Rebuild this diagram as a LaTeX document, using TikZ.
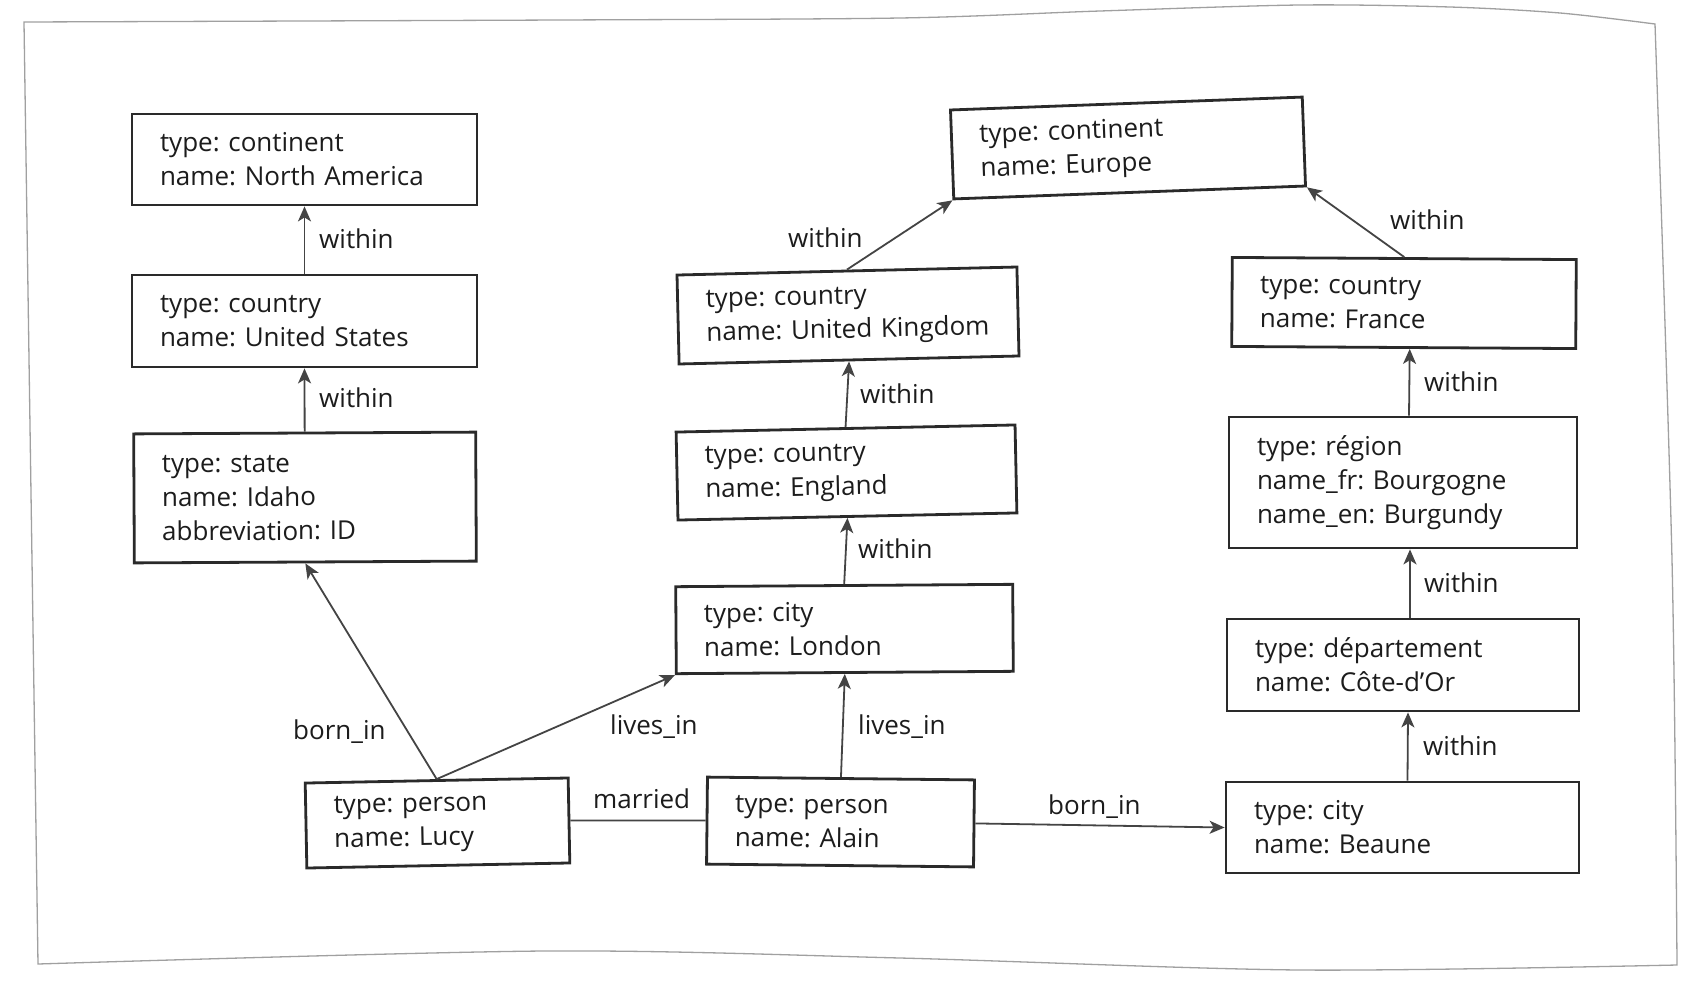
\documentclass[tikz,border=0pt]{standalone}
\usepackage{fontspec}
\setmainfont{Open Sans}
\usetikzlibrary{arrows.meta,calc}
\definecolor{boxc}{HTML}{2A2A2A}
\definecolor{txtc}{HTML}{1C1C1C}
\definecolor{arrc}{HTML}{444444}
\definecolor{framec}{HTML}{A0A0A0}
\begin{document}
\frenchspacing
\begin{tikzpicture}[x=1pt,y=-1pt,
  box/.style={draw=boxc, line width=2.8pt, text=txtc, align=left, inner xsep=28pt, inner ysep=0pt,
    font=\fontsize{26}{34}\selectfont\frenchspacing},
  lbl/.style={text=txtc, inner sep=0pt, anchor=west, text height=18pt, text depth=0pt,
    font=\fontsize{26}{34}\selectfont\frenchspacing},
  arr/.style={draw=arrc, line width=1.8pt, -{Stealth[length=15pt,width=13pt,inset=4pt]}},
  plain/.style={draw=arrc, line width=1.8pt}
]
\useasboundingbox (0,0) rectangle (1700,980);
\fill[white] (0,0) rectangle (1700,980);

% photographed page frame
\draw[framec, line width=1.3pt]
  plot[smooth] coordinates {(24,22) (560,20) (900,18) (1100,11) (1300,5) (1450,7) (1560,13) (1655,24)}
  -- plot[smooth] coordinates {(1655,24) (1672,560) (1677,965)}
  -- plot[smooth] coordinates {(1677,965) (1300,970) (900,958) (545,951) (38,964)}
  -- cycle;

% boxes
\node[box, text width=289pt, minimum height=91pt] (na) at (304.5,159.5)
  {type: continent\\name: North America};
\node[box, text width=289pt, minimum height=92pt] (us) at (304.5,321)
  {type: country\\name: United States};
\node[box, text width=286pt, minimum height=129pt, rotate=0.3] (idaho) at (305,497.5)
  {type: state\\name: Idaho\\abbreviation: ID};
\node[box, text width=207pt, minimum height=85pt, rotate=1.1] (lucy) at (437.5,823)
  {type: person\\name: Lucy};
\node[box, text width=211pt, minimum height=87pt, rotate=-0.6] (alain) at (840.5,822)
  {type: person\\name: Alain};
\node[box, text width=281pt, minimum height=87pt, rotate=0.4] (london) at (844.5,629)
  {type: city\\name: London};
\node[box, text width=283pt, minimum height=88pt, rotate=1.2] (england) at (846.5,472.5)
  {type: country\\name: England};
\node[box, text width=284pt, minimum height=89pt, rotate=1.35] (uk) at (848,315.5)
  {type: country\\name: United Kingdom};
\node[box, text width=296pt, minimum height=89pt, rotate=2.1] (europe) at (1128,148)
  {type: continent\\name: Europe};
\node[box, text width=288pt, minimum height=89pt, rotate=-0.35] (france) at (1404,303)
  {type: country\\name: France};
\node[box, text width=292pt, minimum height=131pt] (region) at (1403,482.5)
  {type: région\\name\_fr: Bourgogne\\name\_en: Burgundy};
\node[box, text width=296pt, minimum height=92pt] (dept) at (1403,665)
  {type: département\\name: Côte-d’Or};
\node[box, text width=297pt, minimum height=91pt] (beaune) at (1402.5,827.5)
  {type: city\\name: Beaune};

% connectors
\draw[arr] (us.north) -- (na.south);
\draw[arr] (idaho.north) -- (us.south);
\draw[arr] (lucy.north) -- (idaho.south);
\draw[arr] (lucy.north) -- (london.south west);
\draw[arr] (alain.north) -- (london.south);
\draw[arr] (london.north) -- (england.south);
\draw[arr] (england.north) -- (uk.south);
\draw[arr] (uk.north) -- (europe.south west);
\draw[arr] (france.north) -- (europe.south east);
\draw[arr] ([xshift=6pt]region.north) -- ([xshift=6pt]france.south);
\draw[arr] ([xshift=7pt]dept.north) -- ([xshift=7pt]region.south);
\draw[arr] ([xshift=5pt]beaune.north) -- ([xshift=5pt]dept.south);
\draw[plain] (lucy.east) -- (alain.west);
\draw[arr] (alain.east) -- (beaune.west);

% connector labels
\node[lbl] (l1) at (319,239) {within};
\node[lbl] (l2) at (319,398) {within};
\node[lbl] (l3) at (293,730) {born\_in};
\node[lbl] (l4) at (610,725) {lives\_in};
\node[lbl] (l5) at (858,725) {lives\_in};
\node[lbl] (l6) at (593,799) {married};
\node[lbl] (l7) at (1048,805) {born\_in};
\node[lbl] (l8) at (858,549) {within};
\node[lbl] (l9) at (860,394) {within};
\node[lbl] (l10) at (788,238) {within};
\node[lbl] (l11) at (1390,220) {within};
\node[lbl] (l12) at (1424,382) {within};
\node[lbl] (l13) at (1424,583) {within};
\node[lbl] (l14) at (1423,746) {within};
\end{tikzpicture}
\end{document}
